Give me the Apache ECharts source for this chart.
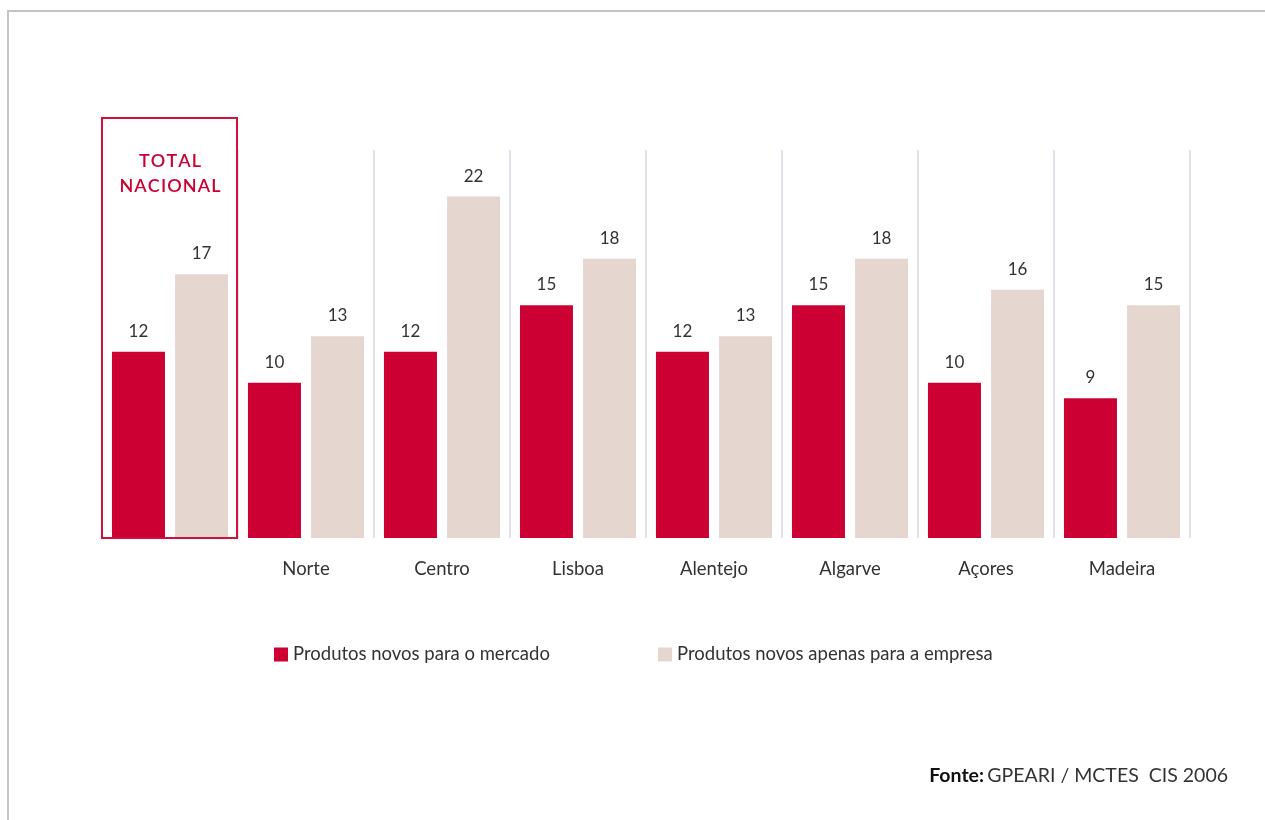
<!DOCTYPE html>
<html>
<head>
<meta charset="utf-8">
<script src="https://cdn.jsdelivr.net/npm/echarts@6/dist/echarts.min.js"></script>
<style>
  html, body { margin: 0; padding: 0; background: #ffffff; }
  #chart { width: 1265px; height: 820px; }
</style>
</head>
<body>
<div id="chart"></div>
<script>
// Regions (first one is the national total, highlighted with a frame)
const regions = ['TOTAL NACIONAL', 'Norte', 'Centro', 'Lisboa', 'Alentejo', 'Algarve', 'Açores', 'Madeira'];
const totalLabel = 'T\u200AO\u200AT\u200AA\u200AL\nN\u200AA\u200AC\u200AI\u200AO\u200AN\u200AA\u200AL';

// Percent of firms by type of product innovation
const mercado = [12, 10, 12, 15, 12, 15, 10, 9];
const empresa = [17, 13, 22, 18, 13, 18, 16, 15];

const seriesNames = ['Produtos novos para o mercado', 'Produtos novos apenas para a empresa'];
const sourceBold = 'Fonte:';
const sourceText = 'GPEARI / MCTES  CIS 2006';

const RED = '#CC0033';
const BEIGE = '#E6D6D0';
const TEXT = '#333333';
const FONT = 'Lato';

const chart = echarts.init(document.getElementById('chart'), null, { renderer: 'canvas' });

const valueLabel = {
  show: true,
  position: 'top',
  distance: 12,
  color: TEXT,
  fontFamily: FONT,
  fontSize: 17
};

const legendBase = {
  top: 645,
  padding: 0,
  itemWidth: 14, itemHeight: 14, itemGap: 0,
  icon: 'rect',
  textStyle: { color: TEXT, fontFamily: FONT, fontSize: 18.5 }
};

const option = {
  backgroundColor: '#ffffff',
  animation: false,
  grid: { left: 102, right: 75, top: 150, bottom: 282, containLabel: false },
  legend: [
    Object.assign({ left: 274, data: [seriesNames[0]] }, legendBase),
    Object.assign({ left: 658, data: [seriesNames[1]] }, legendBase)
  ],
  xAxis: {
    type: 'category',
    data: regions,
    axisLine: { show: false },
    axisTick: { show: false },
    splitLine: { show: true, lineStyle: { color: '#E4E2EE', width: 2 } },
    axisLabel: {
      margin: 22,
      color: TEXT,
      fontFamily: FONT,
      fontSize: 18.5,
      formatter: (v, i) => (i === 0 ? '' : v)
    }
  },
  yAxis: {
    type: 'value',
    min: 0,
    max: 25,
    show: false,
    splitLine: { show: false }
  },
  series: [
    {
      name: seriesNames[0],
      type: 'bar',
      data: mercado,
      barWidth: 53,
      barGap: '19%',
      itemStyle: { color: RED },
      label: valueLabel
    },
    {
      name: seriesNames[1],
      type: 'bar',
      data: empresa,
      barWidth: 53,
      barGap: '19%',
      itemStyle: { color: BEIGE },
      label: valueLabel
    }
  ]
};

chart.setOption(option);

// Frame around the national total, sized from the category band
const c0 = chart.convertToPixel({ xAxisIndex: 0 }, regions[0]);
const c1 = chart.convertToPixel({ xAxisIndex: 0 }, regions[1]);
const band = c1 - c0;
const base = chart.convertToPixel({ yAxisIndex: 0 }, 0);
const boxTop = 118;

chart.setOption({
  graphic: [
    // page frame (top and left rules)
    { type: 'line', silent: true, shape: { x1: 8, y1: 11, x2: 1265, y2: 11 }, style: { stroke: '#C4C4C4', lineWidth: 2 } },
    { type: 'line', silent: true, shape: { x1: 8, y1: 10, x2: 8, y2: 820 }, style: { stroke: '#C4C4C4', lineWidth: 2 } },
    {
      type: 'rect', silent: true, z: 10,
      shape: { x: c0 - band / 2, y: boxTop, width: band - 1, height: base - boxTop },
      style: { fill: null, stroke: '#D2103C', lineWidth: 2 }
    },
    {
      type: 'text', silent: true, z: 10,
      x: c0, y: 174,
      style: {
        text: totalLabel,
        align: 'center', verticalAlign: 'middle',
        fill: RED, fontFamily: FONT, fontSize: 18, fontWeight: 600, lineHeight: 25
      }
    },
    {
      type: 'text', silent: true,
      right: 37, top: 766,
      style: {
        rich: {
          b: { fontFamily: FONT, fontSize: 19.5, fontWeight: 'bold', fill: '#111111' },
          r: { fontFamily: FONT, fontSize: 19.5, fill: TEXT }
        },
        text: '{b|' + sourceBold + '} {r|' + sourceText + '}'
      }
    }
  ]
});
</script>
</body>
</html>
